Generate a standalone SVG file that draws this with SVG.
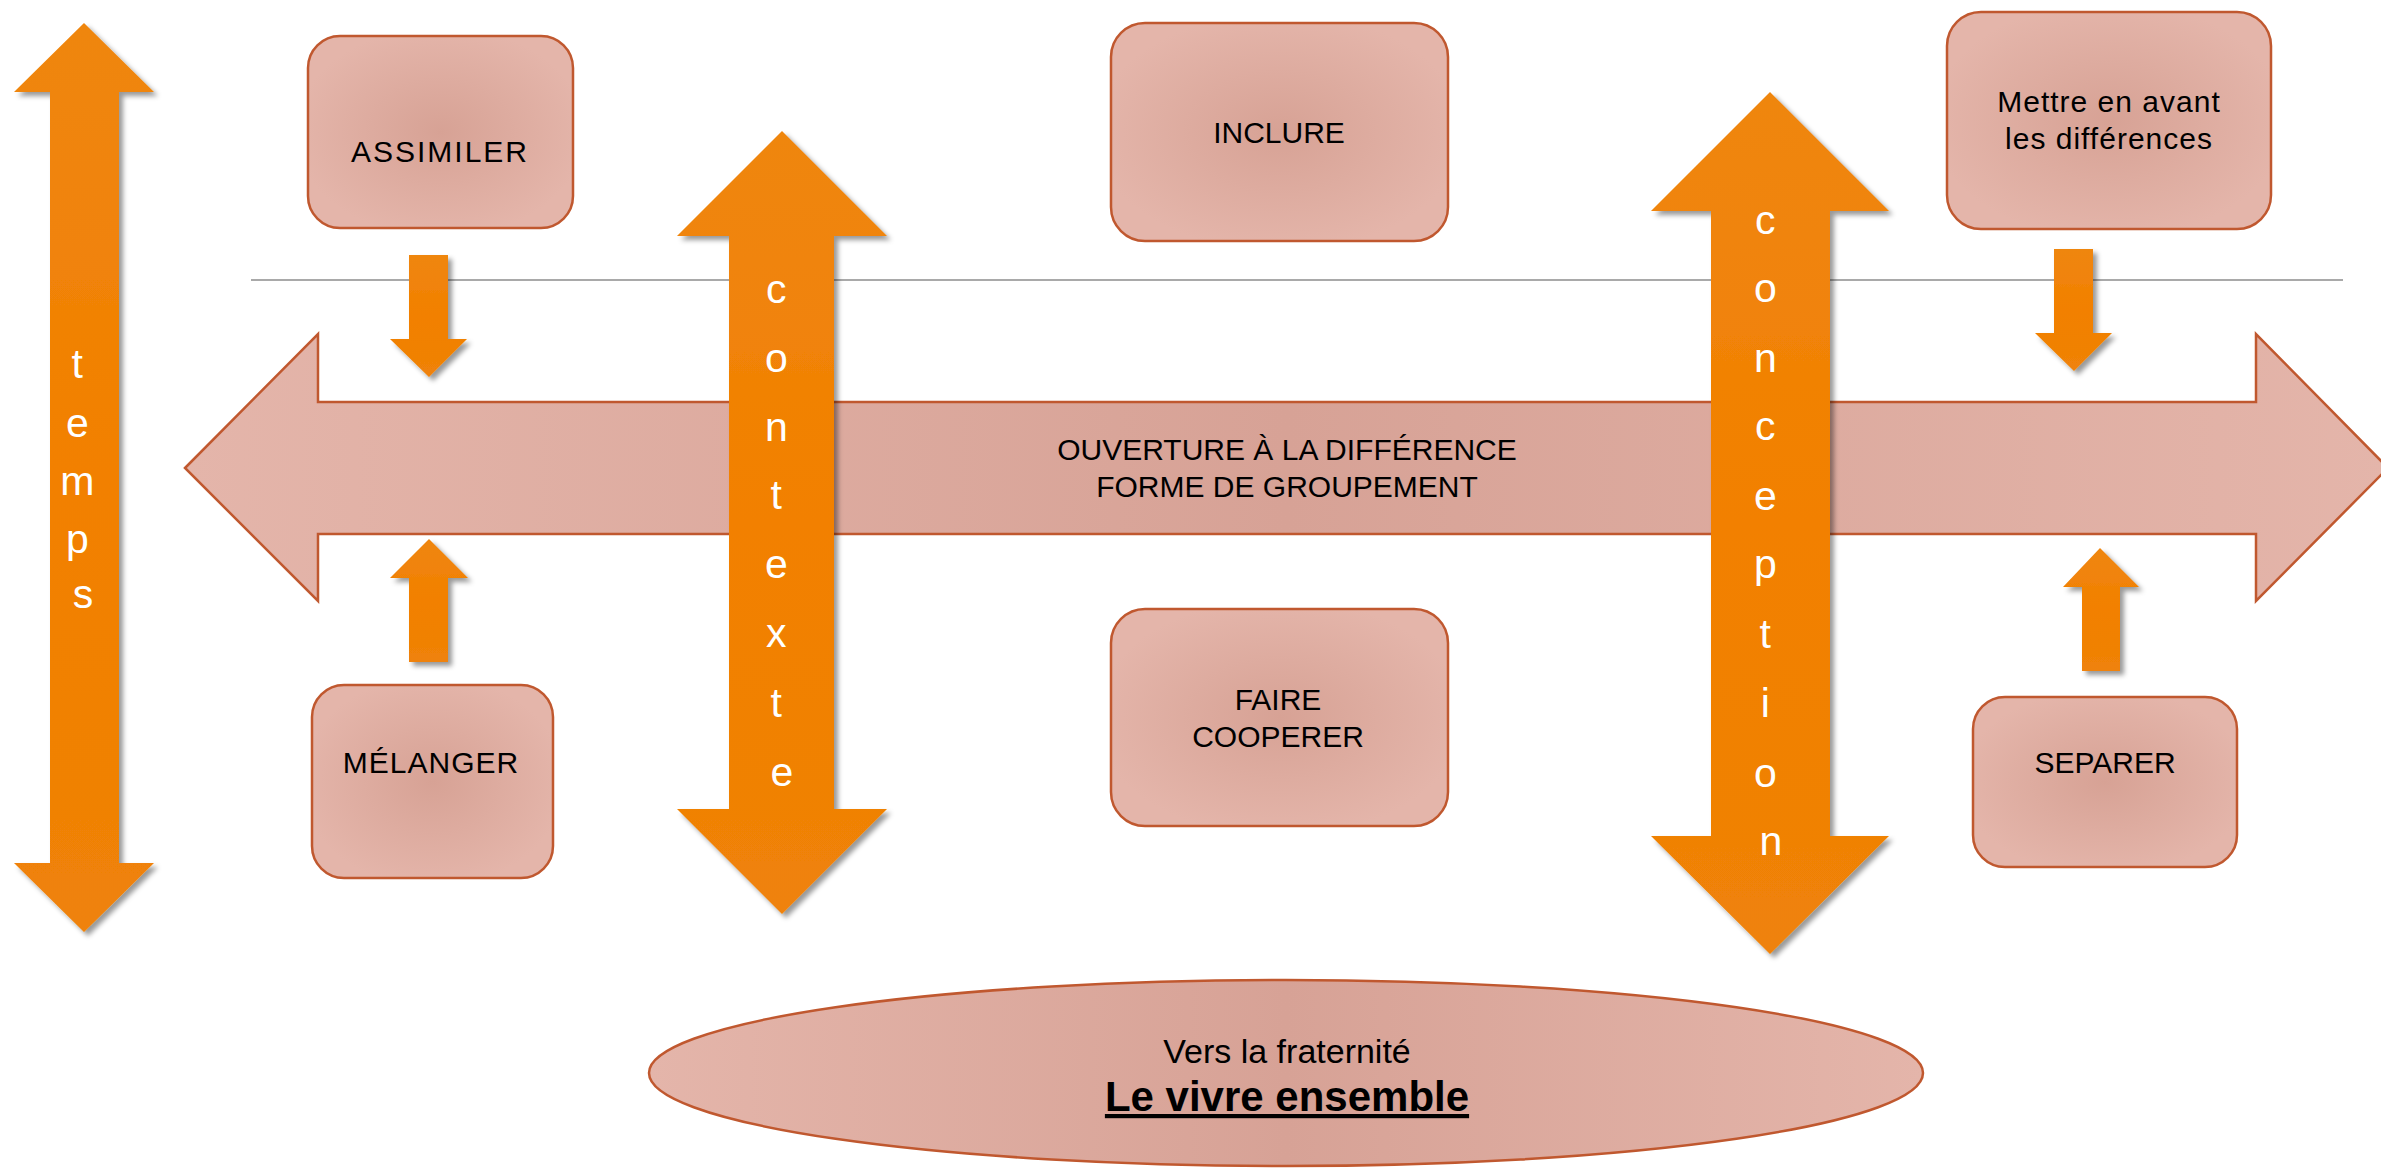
<svg xmlns="http://www.w3.org/2000/svg" width="2381" height="1168" viewBox="0 0 2381 1168">
  <style>
    .box { fill: url(#boxGrad); stroke: #C0582F; stroke-width: 2.5; }
    .band { stroke: #C0582F; stroke-width: 2.5; }
    .orange { fill: url(#orangeGrad); filter: url(#shadow); }
    .lbl { font-family: "Liberation Sans", Arial, sans-serif; font-size: 30px; fill: #000; text-anchor: middle; }
    .vert { font-family: "Liberation Sans", Arial, sans-serif; font-size: 41px; fill: #fff; text-anchor: middle; }
    .sep { stroke: #8c8c8c; stroke-width: 1.5; fill: none; }
  </style>
  <defs>
    <radialGradient id="boxGrad" cx="50%" cy="50%" r="55%">
      <stop offset="0" stop-color="#D7A295"/>
      <stop offset="1" stop-color="#E4B5AA"/>
    </radialGradient>
    <linearGradient id="bandGrad" x1="0" y1="0" x2="1" y2="0">
      <stop offset="0" stop-color="#E4B5AA"/>
      <stop offset="0.5" stop-color="#D7A296"/>
      <stop offset="1" stop-color="#E4B5AA"/>
    </linearGradient>
    <linearGradient id="orangeGrad" x1="0" y1="0" x2="0" y2="1">
      <stop offset="0" stop-color="#EF8610"/>
      <stop offset="0.5" stop-color="#F28000"/>
      <stop offset="1" stop-color="#EF8208"/>
    </linearGradient>
    <filter id="shadow" x="-20%" y="-10%" width="150%" height="130%">
      <feDropShadow dx="4" dy="4" stdDeviation="2.5" flood-color="#000" flood-opacity="0.4"/>
    </filter>
  </defs>

  <rect width="2381" height="1168" fill="#fff"/>

  <g id="separator">
    <line class="sep" x1="251" y1="280" x2="2343" y2="280"/>
  </g>

  <g id="ouverture">
    <polygon class="band" fill="url(#bandGrad)" points="185,468 318,334 318,402 2256,402 2256,334 2388,468 2256,601 2256,534 318,534 318,601"/>
    <text class="lbl" x="1287" y="460">OUVERTURE À LA DIFFÉRENCE</text>
    <text class="lbl" x="1287" y="497">FORME DE GROUPEMENT</text>
  </g>

  <g id="connectors">
    <polygon class="orange" points="409,255 448,255 448,339 467,339 429,377 390,339 409,339"/>
    <polygon class="orange" points="429,539 468,578 448,578 448,662 409,662 409,578 390,578"/>
    <polygon class="orange" points="2054,249 2093,249 2093,333 2112,333 2074,371 2035,333 2054,333"/>
    <polygon class="orange" points="2100,548 2139,587 2120,587 2120,671 2082,671 2082,587 2063,587"/>
  </g>

  <g id="temps">
    <polygon class="orange" points="84,23 154,92 119,92 119,863 154,863 84,932 14,863 50,863 50,92 14,92"/>
    <text class="vert">
      <tspan x="83" y="378">t</tspan>
      <tspan x="83" y="437">e</tspan>
      <tspan x="83" y="495">m</tspan>
      <tspan x="83" y="553">p</tspan>
      <tspan x="83" y="608">s</tspan>
    </text>
  </g>

  <g id="contexte">
    <polygon class="orange" points="782,131 887,236 834,236 834,809 887,809 782,914 677,809 729,809 729,236 677,236"/>
    <text class="vert">
      <tspan x="782" y="303">c</tspan>
      <tspan x="782" y="372">o</tspan>
      <tspan x="782" y="441">n</tspan>
      <tspan x="782" y="509">t</tspan>
      <tspan x="782" y="578">e</tspan>
      <tspan x="782" y="647">x</tspan>
      <tspan x="782" y="717">t</tspan>
      <tspan x="782" y="786">e</tspan>
    </text>
  </g>

  <g id="conception">
    <polygon class="orange" points="1770,92 1889,211 1830,211 1830,836 1889,836 1770,954 1651,836 1711,836 1711,211 1651,211"/>
    <text class="vert">
      <tspan x="1771" y="234">c</tspan>
      <tspan x="1771" y="302">o</tspan>
      <tspan x="1771" y="372">n</tspan>
      <tspan x="1771" y="440">c</tspan>
      <tspan x="1771" y="510">e</tspan>
      <tspan x="1771" y="578">p</tspan>
      <tspan x="1771" y="648">t</tspan>
      <tspan x="1771" y="717">i</tspan>
      <tspan x="1771" y="787">o</tspan>
      <tspan x="1771" y="855">n</tspan>
    </text>
  </g>

  <g id="assimiler">
    <rect class="box" x="308" y="36" width="265" height="192" rx="32" ry="32"/>
    <text class="lbl" x="440" y="162" letter-spacing="2">ASSIMILER</text>
  </g>

  <g id="melanger">
    <rect class="box" x="312" y="685" width="241" height="193" rx="32" ry="32"/>
    <text class="lbl" x="431" y="773" letter-spacing="1">MÉLANGER</text>
  </g>

  <g id="inclure">
    <rect class="box" x="1111" y="23" width="337" height="218" rx="34" ry="34"/>
    <text class="lbl" x="1279" y="143">INCLURE</text>
  </g>

  <g id="faire-cooperer">
    <rect class="box" x="1111" y="609" width="337" height="217" rx="34" ry="34"/>
    <text class="lbl" x="1278" y="710">FAIRE</text>
    <text class="lbl" x="1278" y="747">COOPERER</text>
  </g>

  <g id="mettre-en-avant">
    <rect class="box" x="1947" y="12" width="324" height="217" rx="34" ry="34"/>
    <text class="lbl" x="2109" y="112" letter-spacing="1">Mettre en avant</text>
    <text class="lbl" x="2109" y="149" letter-spacing="1">les différences</text>
  </g>

  <g id="separer">
    <rect class="box" x="1973" y="697" width="264" height="170" rx="32" ry="32"/>
    <text class="lbl" x="2105" y="773">SEPARER</text>
  </g>

  <g id="vivre-ensemble">
    <ellipse class="band" fill="url(#bandGrad)" cx="1286" cy="1073" rx="637" ry="93"/>
    <text class="lbl" x="1287" y="1063" style="font-size:34px">Vers la fraternité</text>
    <text class="lbl" x="1287" y="1111" style="font-size:42px;font-weight:bold" text-decoration="underline">Le vivre ensemble</text>
  </g>
</svg>
